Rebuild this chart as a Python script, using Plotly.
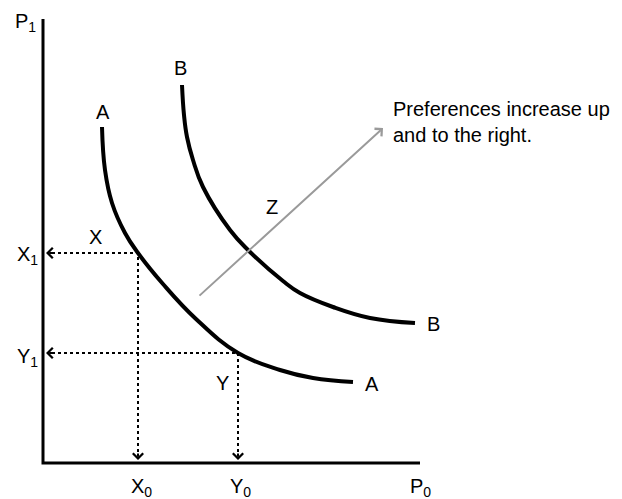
import plotly.graph_objects as go

# Data coordinates: origin at the axes' corner
curve_a_x = [59, 62, 69, 82, 95, 120, 153, 195, 237, 270, 310]
curve_a_y = [336, 293, 260, 230, 210, 179, 144, 110, 93, 85, 81]

curve_b_x = [139, 141, 144, 150, 160, 187, 205, 240, 257, 290, 327, 372]
curve_b_y = [378, 348, 326, 303, 276, 233, 213, 182, 170, 156, 145, 140]

axis_len_x = 377
axis_len_y = 444

points_name = ["X", "Y"]
points_x = [95, 195]
points_y = [210, 110]

pref_start = [155, 166]
pref_end = [340, 335]

FONT = "Liberation Sans, Arial, Helvetica, sans-serif"

fig = go.Figure()

# axes
fig.add_trace(go.Scatter(x=[0, 0, axis_len_x], y=[axis_len_y, 0, 0], mode="lines",
                         line=dict(color="black", width=3), hoverinfo="skip"))
# indifference curves
fig.add_trace(go.Scatter(x=curve_a_x, y=curve_a_y, mode="lines",
                         line=dict(color="black", width=4, shape="spline", smoothing=1.2),
                         hoverinfo="skip"))
fig.add_trace(go.Scatter(x=curve_b_x, y=curve_b_y, mode="lines",
                         line=dict(color="black", width=4, shape="spline", smoothing=1.2),
                         hoverinfo="skip"))

annotations = []
tip = 3
for px, py in zip(points_x, points_y):
    fig.add_trace(go.Scatter(x=[tip + 6, px, px], y=[py, py, tip + 6], mode="lines",
                             line=dict(color="black", width=2, dash="dot"), hoverinfo="skip"))
    annotations.append(dict(x=tip, y=py, ax=tip + 8, ay=py, xref="x", yref="y",
                            axref="x", ayref="y", text="", showarrow=True,
                            arrowhead=4, arrowsize=1, arrowwidth=2, arrowcolor="black"))
    annotations.append(dict(x=px, y=tip, ax=px, ay=tip + 8, xref="x", yref="y",
                            axref="x", ayref="y", text="", showarrow=True,
                            arrowhead=4, arrowsize=1, arrowwidth=2, arrowcolor="black"))

# preference arrow
annotations.append(dict(x=pref_end[0], y=pref_end[1], ax=pref_start[0], ay=pref_start[1],
                        xref="x", yref="y", axref="x", ayref="y", text="", showarrow=True,
                        arrowhead=4, arrowsize=1, arrowwidth=2, arrowcolor="#9a9a9a"))

labels = [
    ("P<sub>1</sub>", -18, 441, "center"),
    ("A", 60, 351, "center"),
    ("B", 137, 395, "center"),
    ("X", 52, 226, "center"),
    ("X<sub>1</sub>", -16, 208, "center"),
    ("Y<sub>1</sub>", -16, 106, "center"),
    ("X<sub>0</sub>", 98, -24, "center"),
    ("Y<sub>0</sub>", 197, -24, "center"),
    ("P<sub>0</sub>", 377, -24, "center"),
    ("Y", 179, 80, "center"),
    ("Z", 229, 256, "center"),
    ("A", 329, 79, "center"),
    ("B", 390, 139, "center"),
]
for t, x, y, al in labels:
    annotations.append(dict(x=x, y=y, xref="x", yref="y", text=t, showarrow=False,
                            font=dict(family=FONT, size=20, color="black"),
                            xanchor=al, yanchor="middle"))

annotations.append(dict(x=348, y=341, xref="x", yref="y",
                        text="Preferences increase up<br>and to the right.",
                        showarrow=False, align="left", xanchor="left", yanchor="middle",
                        font=dict(family=FONT, size=20, color="black")))

fig.update_layout(
    width=622, height=499,
    margin=dict(l=0, r=0, t=0, b=0),
    paper_bgcolor="white", plot_bgcolor="white",
    showlegend=False,
    xaxis=dict(range=[-35, 587], visible=False, fixedrange=True),
    yaxis=dict(range=[-44, 455], visible=False, fixedrange=True),
    annotations=annotations,
)

fig.write_html("out.html")
